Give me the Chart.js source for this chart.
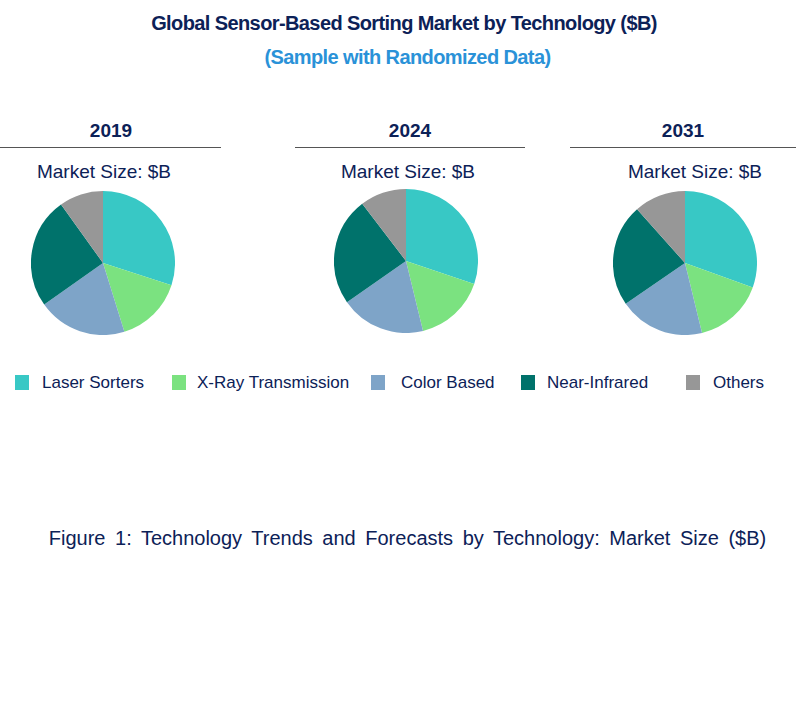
<!DOCTYPE html>
<html>
<head>
<meta charset="utf-8">
<script src="https://cdn.jsdelivr.net/npm/chart.js@4.4.1/dist/chart.umd.min.js"></script>
<style>
  body { margin: 0; background: #fff; font-family: "Liberation Sans", Arial, sans-serif; }
  #wrap { position: relative; width: 804px; height: 703px; overflow: hidden; }
  .t { position: absolute; white-space: nowrap; color: #0c2157; }
  .title { top: 12px; left: 0; width: 808px; text-align: center; font-weight: bold; font-size: 20px; letter-spacing: -0.6px; }
  .sub { top: 46px; left: 0; width: 815px; text-align: center; font-weight: bold; font-size: 20px; letter-spacing: -0.6px; color: #2a92d8; }
  .year { font-weight: bold; font-size: 19px; text-align: center; }
  .rule { position: absolute; height: 1px; background: #555; }
  .ms { font-size: 19px; text-align: center; }
  .leg { font-size: 17px; top: 373px; }
  .sw { position: absolute; width: 14px; height: 15px; top: 375px; }
  .cap { top: 527px; left: 0; width: 815px; text-align: center; font-size: 20px; word-spacing: 4px; }
  canvas { position: absolute; }
</style>
</head>
<body>
<div id="wrap"></div>
<script>
var years = ["2019", "2024", "2031"];
var technologies = ["Laser Sorters", "X-Ray Transmission", "Color Based", "Near-Infrared", "Others"];
var colors = ["#38c8c5", "#7be280", "#7ea4c8", "#00726b", "#979797"];
// share of market (%) per technology
var share2019 = [30, 15.2, 20, 24.9, 9.9];
var share2024 = [30.2, 16, 19.1, 24.3, 10.4];
var share2031 = [30.5, 15.7, 19.2, 23, 11.6];
var shares = [share2019, share2024, share2031];

var wrap = document.getElementById("wrap");
function addText(cls, txt, css) {
  var d = document.createElement("div");
  d.className = "t " + cls;
  d.textContent = txt;
  Object.assign(d.style, css || {});
  wrap.appendChild(d);
  return d;
}

addText("title", "Global Sensor-Based Sorting Market by Technology ($B)");
addText("sub", "(Sample with Randomized Data)");

// panel layout: header center, rule span, label center, pie center
var panels = [
  { hx: 111, r0: 0, r1: 221, mx: 104, cx: 103, cy: 263 },
  { hx: 410, r0: 295, r1: 525, mx: 408, cx: 406, cy: 261 },
  { hx: 683, r0: 570, r1: 796, mx: 695, cx: 685, cy: 263 }
];

panels.forEach(function (p, i) {
  addText("year", years[i], { left: (p.hx - 60) + "px", width: "120px", top: "120px" });
  var r = document.createElement("div");
  r.className = "rule";
  r.style.left = p.r0 + "px";
  r.style.width = (p.r1 - p.r0) + "px";
  r.style.top = "147px";
  wrap.appendChild(r);
  addText("ms", "Market Size: $B", { left: (p.mx - 100) + "px", width: "200px", top: "161px" });

  var c = document.createElement("canvas");
  c.width = 144; c.height = 144;
  c.style.left = (p.cx - 72) + "px";
  c.style.top = (p.cy - 72) + "px";
  wrap.appendChild(c);
  new Chart(c.getContext("2d"), {
    type: "pie",
    data: {
      labels: technologies,
      datasets: [{ data: shares[i], backgroundColor: colors, borderWidth: 0 }]
    },
    options: {
      responsive: false,
      animation: false,
      layout: { padding: 0 },
      plugins: { legend: { display: false }, tooltip: { enabled: false } }
    }
  });
});

// legend
var swX = [15, 172, 371, 521, 686];
var txX = [42, 197, 401, 547, 713];
technologies.forEach(function (name, i) {
  var s = document.createElement("div");
  s.className = "sw";
  s.style.left = swX[i] + "px";
  s.style.background = colors[i];
  wrap.appendChild(s);
  addText("leg", name, { left: txX[i] + "px" });
});

addText("cap", "Figure 1: Technology Trends and Forecasts by Technology: Market Size ($B)");
</script>
</body>
</html>
